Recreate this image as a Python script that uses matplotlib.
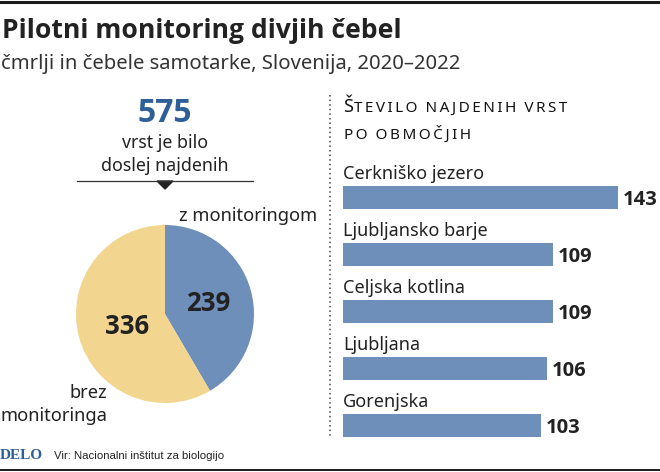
import matplotlib
matplotlib.use("Agg")
import matplotlib.pyplot as plt
from matplotlib.patches import Polygon

plt.rcParams["font.family"] = ["Noto Sans", "DejaVu Sans"]
BOLD = ["Open Sans", "DejaVu Sans"]

W, H = 660, 472

# pie
pie_values = [239, 336]
pie_colors = ["#6f8fbb", "#f2d68f"]

# bars
regions = ["Cerkniško jezero", "Ljubljansko barje", "Celjska kotlina", "Ljubljana", "Gorenjska"]
species = [143, 109, 109, 106, 103]
bar_color = "#6f8fbb"

dark = "#222222"
blue = "#2f5f98"


def fx(px):
    return px / W


def fy(py):
    return 1 - py / H


def label(x, y, s, size=13, ha="left", va="baseline", **kw):
    fig.text(fx(x), fy(y), s, fontsize=size, ha=ha, va=va, color=kw.pop("color", dark), **kw)


fig = plt.figure(figsize=(W / 100, H / 100), dpi=100, facecolor="white")

# top and bottom rules
fig.add_artist(plt.Line2D([0, 1], [fy(1.5), fy(1.5)], color="#1a1a1a", lw=2.2))
fig.add_artist(plt.Line2D([0, 1], [fy(470), fy(470)], color="#1a1a1a", lw=1.4))

# header
label(2, 37.5, "Pilotni monitoring divjih čebel", size=19.1, fontweight="bold", family=BOLD)
label(1, 69, "čmrlji in čebele samotarke, Slovenija, 2020–2022", size=14.6, color="#333333")

# total
label(165, 122.5, "575", size=23, ha="center", fontweight="bold", color=blue, family=BOLD)
label(165, 148, "vrst je bilo", size=12.8, ha="center")
label(165, 171, "doslej najdenih", size=12.8, ha="center")
fig.add_artist(plt.Line2D([fx(77), fx(253)], [fy(181), fy(181)], color="#333333", lw=0.9))
fig.add_artist(Polygon([[fx(157), fy(181)], [fx(173), fy(181)], [fx(165), fy(189)]],
                       transform=fig.transFigure, color="#222222"))

# pie
r = 89
cx, cy = 165, 314
ax_pie = fig.add_axes([fx(cx - r), fy(cy + r), 2 * r / W, 2 * r / H])
ax_pie.pie(pie_values, colors=pie_colors, startangle=90, counterclock=False, radius=1)
ax_pie.set_xlim(-1, 1)
ax_pie.set_ylim(-1, 1)
label(208, 311, "239", size=18.5, ha="center", fontweight="bold", family=BOLD)
label(127.5, 334, "336", size=18.5, ha="center", fontweight="bold", family=BOLD)
label(317, 221, "z monitoringom", size=13.2, ha="right")
label(107, 398, "brez", size=13.2, ha="right")
label(107, 421, "monitoringa", size=13.2, ha="right")

# dotted divider
fig.add_artist(plt.Line2D([fx(330), fx(330)], [fy(95), fy(436)], color="#444444",
                          lw=1.1, linestyle=(0, (1, 2))))

# bar heading, spaced small capitals
label(343, 112, "Š", size=13, color="#111111")
label(354, 112, "T\u2009E\u2009V\u2009I\u2009L\u2009O  N\u2009A\u2009J\u2009D\u2009E\u2009N\u2009I\u2009H  V\u2009R\u2009S\u2009T",
      size=11, color="#111111")
label(344, 138.5, "P\u2009O  O\u2009B\u2009M\u2009O\u2009Č\u2009J\u2009I\u2009H", size=11, color="#111111")

# bars, 1.923 px per species
ax = fig.add_axes([fx(343), fy(454), (W - 343) / W, 285 / H])
ypos = range(len(species))
ax.barh(ypos, species, height=0.4, color=bar_color)
ax.set_xlim(0, (W - 343) / 1.923)
ax.set_ylim(4.5, -0.5)
ax.axis("off")
for i, (name, v) in enumerate(zip(regions, species)):
    ax.text(0, i - 0.33, name, fontsize=13, color=dark, va="baseline", ha="left")
    ax.text(v + 2.5, i + 0.13, str(v), fontsize=14.5, fontweight="bold", color=dark,
            va="baseline", ha="left", clip_on=False, family=BOLD)

# footer
label(0, 459, "DELO", size=11, fontweight="bold", color=blue, family="Liberation Serif")
label(54, 459, "Vir: Nacionalni inštitut za biologijo", size=8.2, family="Liberation Sans")

fig.savefig("out.png", dpi=100)
